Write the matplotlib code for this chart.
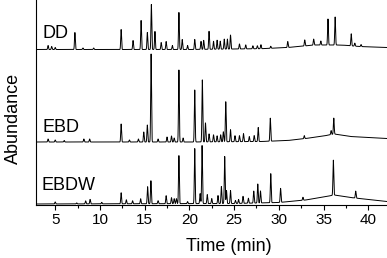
import numpy as np
import matplotlib
matplotlib.use('Agg')
import matplotlib.pyplot as plt
from matplotlib.ticker import MultipleLocator

plt.rcParams['font.family'] = ['Liberation Sans', 'DejaVu Sans']


# ###########################################################################
# Peak retention times (min) and peak heights

dd_rt = [4.2, 4.6, 5.0, 7.2, 8.1, 9.3, 12.37, 13.7, 14.6, 15.3, 15.75, 16.15,
         16.85, 17.4, 18.1, 18.83, 19.2, 19.8, 20.6, 21.3, 21.6, 22.2, 22.7,
         23.1, 23.45, 23.9, 24.25, 24.6, 25.6, 26.3, 27.1, 27.6, 28.0, 29.1,
         31.0, 32.9, 33.9, 34.7, 35.5, 36.3, 38.1, 38.5, 39.2]
dd_h = [4, 3, 2, 17, 1.5, 1.5, 20, 9, 29, 17, 45, 18,
        7, 8, 4, 37, 10, 4, 10, 8, 9, 18, 8,
        9, 8, 10, 10, 14, 5, 4, 3, 3, 4, 2,
        6, 6, 6, 4, 26, 28, 12, 3, 2]
dd_base_t = [2.85, 20, 28, 31, 34, 37, 39, 42.1]
dd_base = [0, 0, 0.8, 2, 4.5, 4.5, 3, 2]

ebd_rt = [4.2, 5.0, 6.0, 8.2, 8.85, 12.37, 13.3, 14.3, 14.9, 15.3, 15.72,
          16.5, 17.5, 18.0, 18.3, 18.83, 19.3, 20.6, 21.45, 21.8, 22.2, 22.7,
          23.1, 23.5, 23.8, 24.07, 24.6, 25.1, 25.6, 26.05, 26.7, 27.25,
          27.7, 29.05, 32.85, 35.85, 36.15]
ebd_h = [3, 2, 1.5, 3, 3, 18, 2, 3, 10, 17, 88,
         3, 5, 6, 4, 72, 4, 52, 62, 19, 8, 7,
         6, 7, 10, 40, 12, 6, 6, 8, 5, 6,
         14, 23, 3, 4, 16]
ebd_base_t = [2.85, 20, 28, 31, 33, 35, 36.2, 38, 42.1]
ebd_base = [0, 0, 0.5, 1.5, 3.5, 6, 8, 5.5, 3.5]

ebdw_rt = [5.0, 7.4, 8.4, 8.9, 10.2, 12.37, 12.95, 13.65, 14.55, 15.33, 15.7,
           16.5, 17.4, 18.0, 18.3, 18.55, 18.83, 19.8, 20.6, 21.2, 21.42,
           22.0, 22.5, 23.2, 23.58, 23.95, 24.15, 24.6, 25.15, 25.5, 26.0,
           26.6, 27.2, 27.65, 27.95, 29.1, 30.2, 32.7, 36.1, 38.6]
ebdw_h = [2, 1, 3, 4.5, 1.5, 11, 4, 3, 5, 17, 23,
          3, 8, 6, 5, 5, 48, 2, 55, 10, 58,
          9, 5, 8, 17, 47, 13, 13, 3, 4, 7,
          5, 12, 19, 12, 29, 14, 3, 35, 7]
ebdw_base_t = [2.85, 25, 30, 33, 35, 36.2, 38, 42.1]
ebdw_base = [0, 0.5, 1.5, 4, 7, 9, 6.5, 2.5]

labels = ['DD', 'EBD', 'EBDW']
xticks = [5, 10, 15, 20, 25, 30, 35, 40]


# ###########################################################################
# Build the traces and stack them

t = np.arange(2.85, 42.1, 0.005)
width = 0.045   # peak sigma (min)


def trace(rt, h, bt, bv):
    y = np.interp(t, bt, bv)
    for r, a in zip(rt, h):
        y = y + a * np.exp(-0.5 * ((t - r) / width) ** 2)
    return y


offsets = [155.5, 63, 1]
traces = [trace(dd_rt, dd_h, dd_base_t, dd_base),
          trace(ebd_rt, ebd_h, ebd_base_t, ebd_base),
          trace(ebdw_rt, ebdw_h, ebdw_base_t, ebdw_base)]
label_pos = [(3.55, 166.7), (3.55, 73.3), (3.45, 15.5)]

fig = plt.figure(figsize=(3.87, 2.58), dpi=100)
ax = fig.add_axes([36/387, 53/258, 351/387, 205/258])

for y, off, lab, (lx, ly) in zip(traces, offsets, labels, label_pos):
    ax.plot(t, y + off, color='k', lw=0.7)
    ax.text(lx, ly, lab, fontsize=13, va='baseline', ha='left')

ax.set_xlim(2.85, 42.1)
ax.set_ylim(0, 205)
ax.set_xticks(xticks)
ax.xaxis.set_minor_locator(MultipleLocator(2.5))
ax.set_yticks([])
ax.tick_params(axis='x', which='major', direction='out', length=3.5, width=0.8,
               labelsize=11, pad=2)
ax.tick_params(axis='x', which='minor', direction='out', length=2.5, width=0.8)
for s in ['top', 'right']:
    ax.spines[s].set_visible(False)
for s in ['left', 'bottom']:
    ax.spines[s].set_linewidth(0.8)

ax.set_xlabel('Time (min)', fontsize=13)
ax.xaxis.set_label_coords(0.55, -0.16)
ax.set_ylabel('Abundance', fontsize=13)
ax.yaxis.set_label_coords(-0.04, 0.42)

fig.savefig('out.png', dpi=100)
